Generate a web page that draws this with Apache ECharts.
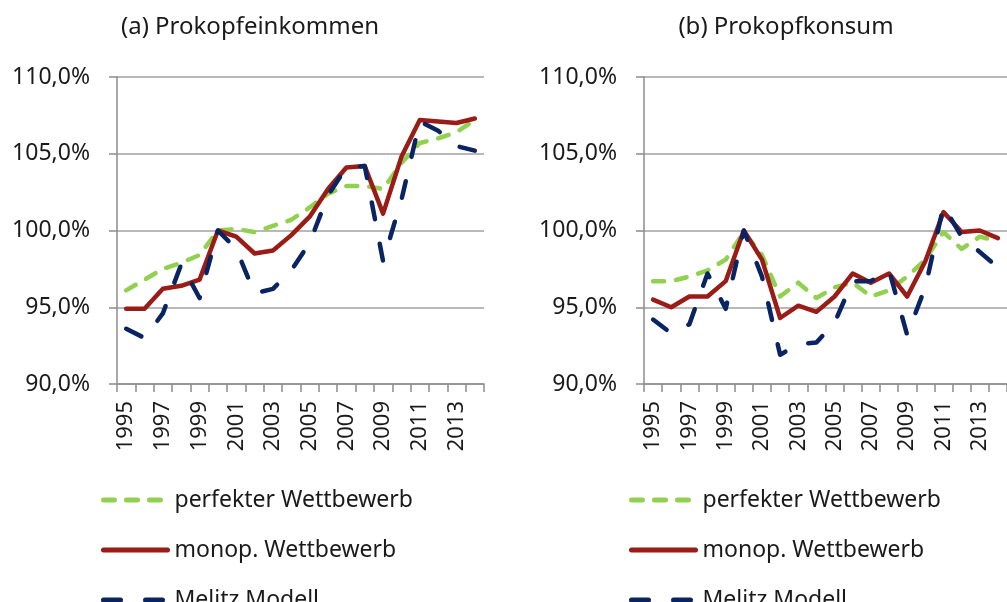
<!DOCTYPE html>
<html><head><meta charset="utf-8">
<script src="https://cdn.jsdelivr.net/npm/echarts@6/dist/echarts.min.js"></script>
<style>html,body{margin:0;padding:0;background:#fff;}#c{width:1007px;height:602px;}</style>
</head><body><div id="c"></div>
<script>
const years = ['1995','1996','1997','1998','1999','2000','2001','2002','2003','2004','2005','2006','2007','2008','2009','2010','2011','2012','2013','2014'];
const seriesNames = ['perfekter Wettbewerb','monop. Wettbewerb','Melitz Modell'];
const titles = ['(a) Prokopfeinkommen','(b) Prokopfkonsum'];
const yTicks = [90,95,100,105,110];

// (a) Prokopfeinkommen
const incPerfekt = [96.1,96.8,97.5,97.9,98.4,100.0,100.1,99.9,100.3,100.7,101.5,102.4,102.9,102.9,102.7,104.4,105.7,106.0,106.4,107.2];
const incMonop   = [94.9,94.9,96.2,96.4,96.8,100.0,99.6,98.5,98.7,99.7,100.9,102.7,104.1,104.2,101.1,104.8,107.2,107.1,107.0,107.3];
const incMelitz  = [93.6,93.0,94.6,97.8,95.6,100.0,98.8,95.9,96.2,97.4,99.2,102.3,104.1,104.2,98.0,102.0,107.1,106.5,105.5,105.2];

// (b) Prokopfkonsum
const conPerfekt = [96.7,96.7,97.0,97.4,98.1,99.9,98.4,95.7,96.6,95.6,96.3,96.6,95.7,96.1,97.0,98.1,99.9,98.8,99.6,99.3];
const conMonop   = [95.5,95.0,95.7,95.7,96.7,100.0,98.1,94.3,95.1,94.7,95.7,97.2,96.6,97.2,95.7,98.0,101.2,99.9,100.0,99.5];
const conMelitz  = [94.2,93.3,93.9,97.2,94.9,100.0,97.0,91.9,92.6,92.7,94.0,96.7,96.7,97.4,93.2,96.3,101.6,99.6,98.6,97.6];

const FONT = 'Noto Sans';
const TXT = '#1a1a1a';
const colors = ['#92d050','#9a1c17','#0a2462'];
const lineTypes = [[11,12],'solid',[17,25]];

const gridDefs = [
  {left:117, top:77, width:367, height:307},
  {left:644, top:77, width:370, height:307}
];

function fmt(v){ return v.toFixed(1).replace('.',',') + '%'; }

const xAxis = gridDefs.map((g,i)=>({
  type:'category', gridIndex:i, data:years, boundaryGap:true,
  axisLine:{lineStyle:{color:'#8c8c8c', width:1.5}},
  axisTick:{show:true, alignWithLabel:false, interval:0, length:8, lineStyle:{color:'#8c8c8c', width:1.5}},
  axisLabel:{rotate:90, interval:1, margin:17, color:TXT, fontFamily:FONT, fontSize:22}
}));
const yAxis = gridDefs.map((g,i)=>({
  type:'value', gridIndex:i, min:yTicks[0], max:yTicks[yTicks.length-1], interval:5,
  axisLine:{show:true, lineStyle:{color:'#8c8c8c', width:1.5}},
  axisTick:{show:true, length:8, lineStyle:{color:'#8c8c8c', width:1.5}},
  splitLine:{show:true, lineStyle:{color:'#a0a0a0', width:1.5}},
  axisLabel:{formatter:fmt, margin:27, color:TXT, fontFamily:FONT, fontSize:23}
}));

const dataSets = [[incPerfekt,incMonop,incMelitz],[conPerfekt,conMonop,conMelitz]];
const series = [];
dataSets.forEach((ds,gi)=>{
  ds.forEach((d,si)=>{
    series.push({
      name:seriesNames[si], type:'line', xAxisIndex:gi, yAxisIndex:gi, data:d,
      symbol:'none', smooth:false, animation:false,
      lineStyle:{color:colors[si], width:4.5, type:lineTypes[si], cap:'round', join:'round'},
      itemStyle:{color:colors[si]}
    });
  });
});

function makeLegend(left){
  return {
    orient:'vertical', left:left, top:482, height:300,
    itemWidth:64, itemHeight:14, itemGap:24,
    data:seriesNames.slice(),
    itemStyle:{color:'rgba(0,0,0,0)', borderWidth:0, opacity:0},
    lineStyle:{width:5, cap:'round'},
    textStyle:{color:TXT, fontFamily:FONT, fontSize:23, lineHeight:26, padding:[0,0,0,2]},
    selectedMode:false
  };
}

const chart = echarts.init(document.getElementById('c'), null, {renderer:'canvas'});
chart.setOption({
  animation:false,
  backgroundColor:'#fff',
  title:[
    {text:titles[0], left:245, top:10, textAlign:'center', textStyle:{color:TXT, fontFamily:FONT, fontSize:24, fontWeight:'normal'}},
    {text:titles[1], left:781, top:10, textAlign:'center', textStyle:{color:TXT, fontFamily:FONT, fontSize:24, fontWeight:'normal'}}
  ],
  legend:[makeLegend(96), makeLegend(624)],
  grid:gridDefs,
  xAxis:xAxis, yAxis:yAxis, series:series
});
</script></body></html>
